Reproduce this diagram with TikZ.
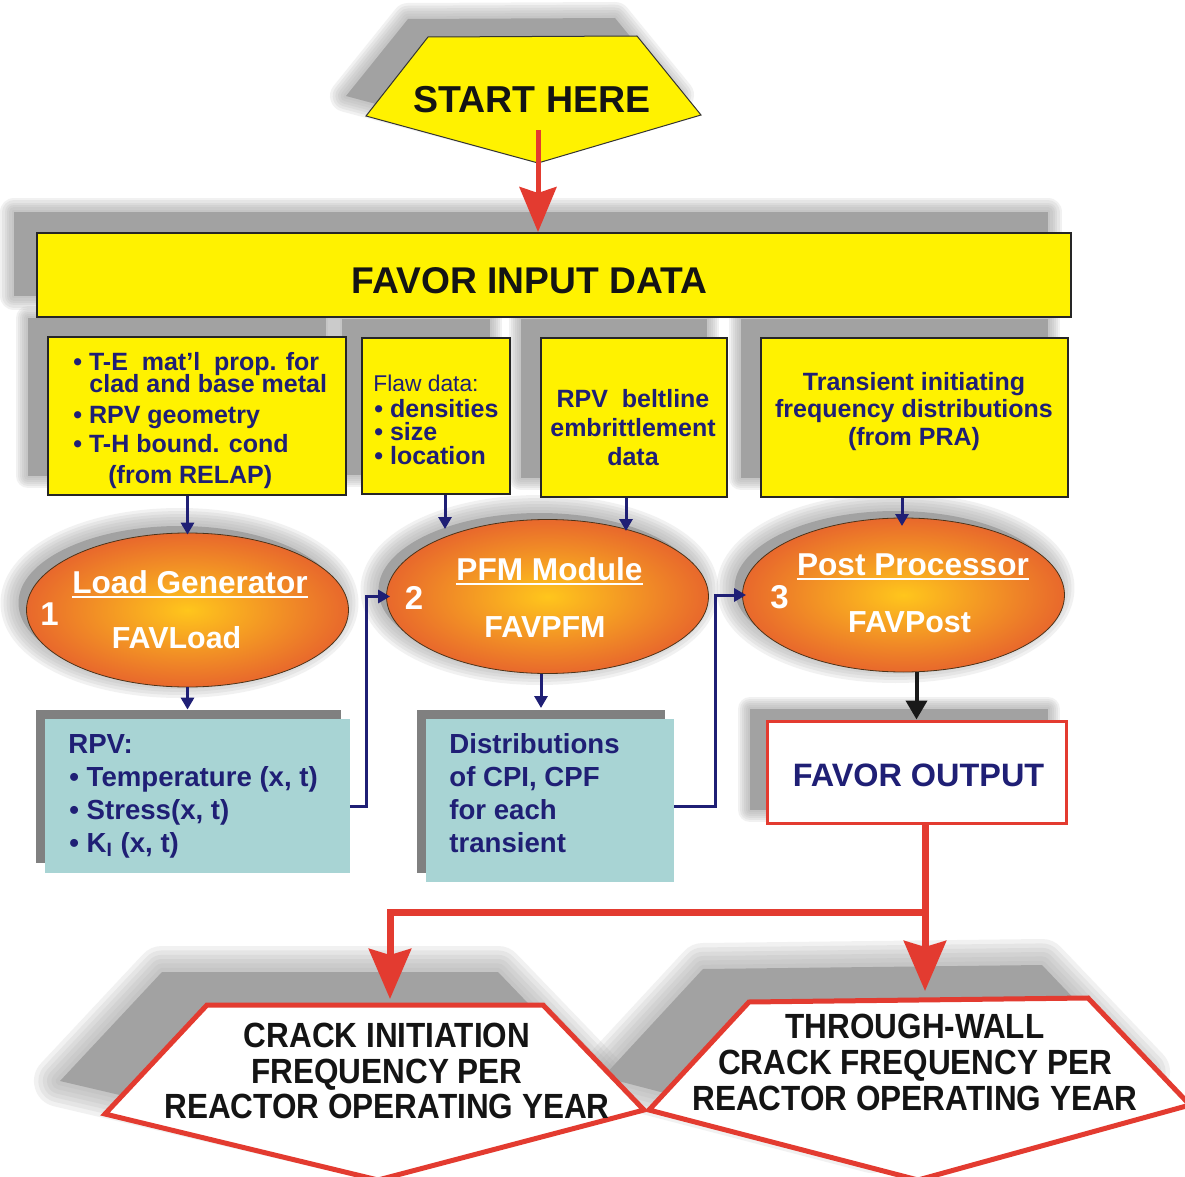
\documentclass[tikz,border=0pt]{standalone}
\usepackage{fontspec}
\setmainfont{Liberation Sans}
\newfontfamily\condfont[FakeStretch=0.9]{Liberation Sans}
\usetikzlibrary{arrows.meta,shapes.geometric,fit}
\definecolor{navyc}{HTML}{1F1F75}
\definecolor{ylw}{HTML}{FFF200}
\definecolor{tealc}{HTML}{A8D4D4}
\definecolor{redc}{HTML}{E33B30}
\definecolor{shadowc}{HTML}{A2A2A2}
\definecolor{orgin}{HTML}{FFC61C}
\definecolor{orgout}{HTML}{E8682C}
\newcommand\softshadow[2]{%
  \foreach \f in {1,0.83,0.66,0.5,0.33,0.16}{\draw[shadowc,opacity=0.14,line width=\f*#1,line join=round] #2;}
  \fill[shadowc] #2;}
\tikzset{
  ybox/.style={draw=black!85,line width=1pt,fill=ylw,inner sep=0pt},
  backbox/.style={fill=black!50,inner sep=0pt},
  tealbox/.style={fill=tealc,inner sep=0pt},
  outbox/.style={draw=redc,line width=1.5pt,fill=white,inner sep=0pt},
  ell/.style={ellipse,draw=black!60!brown,line width=0.4pt,inner sep=0pt,
    minimum width=161pt,minimum height=77pt,inner color=orgin,outer color=orgout},
  txc/.style={inner sep=0pt,anchor=base},
  txl/.style={inner sep=0pt,anchor=base west},
  navyb/.style={text=navyc,font=\fontsize{12.5}{14}\selectfont\bfseries},
  navyr/.style={text=navyc,font=\fontsize{11.4}{13}\selectfont},
  navyc2/.style={text=navyc,font=\fontsize{13.8}{16}\selectfont\bfseries},
  whtA/.style={text=white,font=\fontsize{15.8}{18}\selectfont\bfseries},
  whtB/.style={text=white,font=\fontsize{15.2}{18}\selectfont\bfseries},
  whtN/.style={text=white,font=\fontsize{16.5}{18}\selectfont\bfseries},
  bigblk/.style={text=black!92,font=\fontsize{18.6}{20}\selectfont\bfseries},
  condblk/.style={text=black!92,font=\condfont\bfseries\fontsize{17.5}{19}\selectfont},
  navyarr/.style={draw=navyc,line width=1.5pt,-{Triangle[length=6pt,width=6.5pt]}},
  blkarr/.style={draw=black!90,line width=2pt,-{Triangle[length=9.5pt,width=10.5pt]}},
  redarrA/.style={draw=redc,line width=2.5pt,-{Stealth[length=22.5pt,width=18.5pt,inset=3pt]}},
  redarrB/.style={draw=redc,line width=3.5pt,-{Stealth[length=25pt,width=21pt,inset=3pt]}}
}
\begin{document}
\begin{tikzpicture}[x=0.5pt,y=-0.5pt]
\useasboundingbox (0,0) rectangle (1185,1177);
\fill[white] (0,0) rectangle (1185,1177);

% ---------- shadows ----------
\softshadow{16pt}{(408,19) -- (615,18) -- (678,95) -- (515,141) -- (346,96) -- cycle}
\softshadow{14pt}{(14,212) rectangle (1048,296)}
\softshadow{12pt}{(28,318) rectangle (326,476)}
\softshadow{12pt}{(342,319) rectangle (490,475)}
\softshadow{12pt}{(521,319) rectangle (707,478)}
\softshadow{12pt}{(741,319) rectangle (1048,478)}
\softshadow{18pt}{(179.5,603) ellipse [x radius=161, y radius=77]}
\softshadow{18pt}{(539.5,590) ellipse [x radius=161, y radius=77]}
\softshadow{18pt}{(895.5,588) ellipse [x radius=161, y radius=77]}
\softshadow{12pt}{(750,709) rectangle (1048,810)}
\softshadow{26pt}{(162,972) -- (498,972) -- (599,1077) -- (333,1145) -- (60,1081) -- cycle}
\softshadow{26pt}{(703,969) -- (1042,965) -- (1144,1072) -- (872,1147) -- (603,1077) -- cycle}

% ---------- start ----------
\filldraw[fill=ylw,draw=black!80,line width=0.5pt]
  (428,37) -- (637,36) -- (701,115) -- (538,163) -- (366,116) -- cycle;
\node[txc,bigblk,font=\fontsize{18.75}{20}\selectfont\bfseries] (start) at (532,113) {START HERE};

% ---------- input data ----------
\node[ybox,fit={(37,233) (1071,317)}] (fid) {};
\node[txc,bigblk] (fidt) at (529.5,293) {FAVOR INPUT DATA};

\node[ybox,fit={(48,337) (346,495)}] (b1) {};
\node[ybox,fit={(362,338) (510,494)}] (b2) {};
\node[ybox,fit={(541,338) (727,497)}] (b3) {};
\node[ybox,fit={(761,338) (1068,497)}] (b4) {};

\node[txl,navyb] (b1l1) at (73,371) {• T-E\ \ mat’l\ \ prop. for};
\node[txl,navyb] (b1l2) at (89,393) {clad and base metal};
\node[txl,navyb] (b1l3) at (73,423) {• RPV geometry};
\node[txl,navyb] (b1l4) at (73,452) {• T-H bound. cond};
\node[txl,navyb] (b1l5) at (108,483) {(from RELAP)};

\node[txl,navyr] (b2l1) at (373,391) {Flaw data:};
\node[txl,navyb] (b2l2) at (374,417) {• densities};
\node[txl,navyb] (b2l3) at (374,440) {• size};
\node[txl,navyb] (b2l4) at (374,464) {• location};

\node[txc,navyb] (b3l1) at (633,408) {RPV\ \ beltline};
\node[txc,navyb] (b3l2) at (633,437) {embrittlement};
\node[txc,navyb] (b3l3) at (633,465) {data};

\node[txc,navyb] (b4l1) at (914,390) {Transient initiating};
\node[txc,navyb] (b4l2) at (914,417) {frequency distributions};
\node[txc,navyb] (b4l3) at (914,445) {(from PRA)};

% ---------- modules ----------
\node[ell] (e1) at (187.5,610) {};
\node[ell] (e2) at (547.5,596.5) {};
\node[ell] (e3) at (903.5,595) {};

\node[txc,whtA] (e1a) at (190,593) {Load Generator};
\draw[white,line width=1pt] ([yshift=-1.75pt]e1a.base west) -- ([yshift=-1.75pt]e1a.base east);
\node[txc,whtB] (e1b) at (176.5,648) {FAVLoad};
\node[txc,whtN] (e1n) at (49.5,625) {1};

\node[txc,whtA] (e2a) at (549.5,580) {PFM Module};
\draw[white,line width=1pt] ([yshift=-2pt]e2a.base west) -- ([yshift=-2pt]e2a.base east);
\node[txc,whtB] (e2b) at (545,637) {FAVPFM};
\node[txc,whtN] (e2n) at (414,609) {2};

\node[txc,whtA] (e3a) at (913,575) {Post Processor};
\draw[white,line width=1pt] ([yshift=-1.75pt]e3a.base west) -- ([yshift=-1.75pt]e3a.base east);
\node[txc,whtB] (e3b) at (909.5,632) {FAVPost};
\node[txc,whtN] (e3n) at (779.5,608) {3};

% ---------- intermediate results ----------
\node[backbox,fit={(36,710) (341,863)}] (b5b) {};
\node[tealbox,fit={(45,719) (350,873)}] (b5) {};
\node[backbox,fit={(417,710) (665,873)}] (b6b) {};
\node[tealbox,fit={(426,719) (674,882)}] (b6) {};

\node[txl,navyc2] (b5l1) at (68,753) {RPV:};
\node[txl,navyc2] (b5l2) at (69,786) {• Temperature (x, t)};
\node[txl,navyc2] (b5l3) at (69,819) {• Stress(x, t)};
\node[txl,navyc2] (b5l4) at (69,852) {• K\textsubscript{I} (x, t)};

\node[txl,navyc2] (b6l1) at (449,753) {Distributions};
\node[txl,navyc2] (b6l2) at (449,786) {of CPI, CPF};
\node[txl,navyc2] (b6l3) at (449,819) {for each};
\node[txl,navyc2] (b6l4) at (449,852) {transient};

% ---------- output ----------
\node[outbox,fit={(767,721) (1066,823)}] (fo) {};
\node[txc,text=navyc,font=\fontsize{16.2}{18}\selectfont\bfseries] (fot) at (918.5,786) {FAVOR OUTPUT};

% ---------- final results ----------
\filldraw[fill=white,draw=redc,line width=2.5pt]
  (207,1005) -- (543,1005) -- (644,1110) -- (378,1180) -- (105,1114) -- cycle;
\filldraw[fill=white,draw=redc,line width=2.5pt]
  (749,1002) -- (1088,998) -- (1190,1105) -- (918,1180) -- (649,1110) -- cycle;

\node[txc,condblk] (p1l1) at (387,1047) {CRACK INITIATION};
\node[txc,condblk] (p1l2) at (387,1083) {FREQUENCY PER};
\node[txc,condblk] (p1l3) at (387,1118) {REACTOR OPERATING YEAR};
\node[txc,condblk] (p2l1) at (915,1038) {THROUGH-WALL};
\node[txc,condblk] (p2l2) at (915,1074) {CRACK FREQUENCY PER};
\node[txc,condblk] (p2l3) at (915,1110) {REACTOR OPERATING YEAR};

% ---------- connectors ----------
\coordinate (sa) at (538,130);
\draw[redarrA] (sa) -- (sa |- fid.north);

\coordinate (a2) at (445,529);
\coordinate (a3) at (626,531);
\coordinate (a4) at (902,526);
\coordinate (a5) at (541,708);
\draw[navyarr] (e1.north |- b1.south) -- ([yshift=-1pt]e1.north);
\draw[navyarr] (a2 |- b2.south) -- (a2);
\draw[navyarr] (a3 |- b3.south) -- (a3);
\draw[navyarr] (a4 |- b4.south) -- (a4);
\draw[navyarr] (e1.south) -- (e1.south |- b5b.north);
\draw[navyarr] (a5 |- e2.south) -- (a5);

\coordinate (c1) at (366,806);
\coordinate (c2) at (715,806);
\draw[navyarr] (b5.east |- c1) -- (c1) |- ([xshift=2pt]e2.west);
\draw[navyarr] (b6.east |- c2) -- (c2) |- ([xshift=2pt]e3.west);

\draw[blkarr] (fo.north |- e3.south) -- (fo.north);

\coordinate (j) at (925,912);
\coordinate (p1) at (390,999);
\coordinate (p2) at (925,991);
\draw[redarrB] (fo.south -| j) -- (p2);
\draw[redarrB] (j) -| (p1);
\end{tikzpicture}
\end{document}
